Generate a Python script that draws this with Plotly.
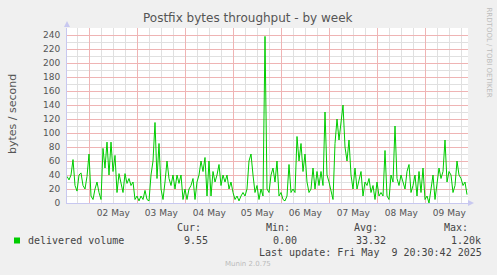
import pandas as pd
import plotly.graph_objects as go

# ---- data (hourly samples) ----
start_time = "2025-05-01 12:51"
end_time = "2025-05-09 21:21"
delivered = [
    38, 33, 40, 62, 25, 17, 40, 43, 25, 20, 38, 70, 10, 5, 20, 30, 15, 5, 78, 50,
    87, 40, 87, 45, 68, 15, 42, 30, 15, 42, 28, 35, 25, 30, 5, 10, 3, 10, 5, 18,
    5, 3, 40, 60, 115, 35, 85, 20, 5, 30, 60, 35, 25, 40, 20, 40, 28, 40, 5, 20,
    5, 20, 25, 35, 5, 30, 40, 60, 45, 65, 10, 60, 10, 45, 30, 40, 55, 25, 40, 30,
    40, 20, 30, 15, 5, 10, 3, 10, 15, 10, 20, 60, 70, 40, 15, 25, 5, 20, 10, 238,
    20, 15, 40, 50, 30, 60, 10, 15, 5, 3, 10, 55, 15, 20, 15, 95, 60, 85, 45, 70,
    30, 15, 20, 50, 20, 45, 25, 45, 25, 130, 40, 30, 15, 5, 85, 120, 90, 115, 140, 80,
    60, 90, 40, 20, 50, 20, 35, 45, 10, 30, 25, 35, 15, 25, 5, 30, 10, 15, 10, 75,
    10, 5, 40, 30, 110, 35, 25, 40, 30, 20, 45, 55, 15, 25, 40, 10, 45, 15, 50, 5,
    10, 0, 20, 40, 5, 25, 50, 35, 45, 90, 30, 45, 40, 15, 25, 60, 40, 35, 25, 30, 12,
]
times = pd.date_range(start_time, periods=len(delivered), freq="h")

title = "Postfix bytes throughput - by week"
y_title = "bytes / second"
series_name = "delivered volume"
stats_labels = ["Cur:", "Min:", "Avg:", "Max:"]
stats_values = ["9.55", "0.00", "33.32", "1.20k"]
last_update = "Last update: Fri May  9 20:30:42 2025"
footer = "Munin 2.0.75"
side_text = "RRDTOOL / TOBI OETIKER"

# grid positions: major at midnight / every 20, minor every 6 h / every 10
x_minor = [t for t in pd.date_range("2025-05-01 00:00", "2025-05-10 00:00", freq="6h")
           if t.hour != 0]
y_major = list(range(0, 241, 20))
y_minor = list(range(10, 251, 20))

# ---- layout geometry (pixels) ----
W, H = 497, 275
L, R, T, B = 67, 468, 28, 203
pw, ph = R - L, B - T


def px(x):
    return (x - L) / pw


def py(y):
    return (B - y) / ph


GREEN = "#00CC00"
MAJ = "#efb4b4"
MIN = "#e0e0e0"
AX = "#c8c8f0"
TXT = "#555555"

fig = go.Figure()
fig.add_trace(go.Scatter(x=times, y=delivered, mode="lines",
                         line=dict(color=GREEN, width=1), showlegend=False,
                         hoverinfo="skip"))

fig.update_layout(
    width=W, height=H,
    margin=dict(l=L, r=W - R, t=T, b=H - B, pad=0),
    paper_bgcolor="#F0F0F0", plot_bgcolor="#FFFFFF",
    font=dict(family="DejaVu Sans", color=TXT, size=9),
    showlegend=False,
)
fig.update_xaxes(
    type="date", range=[start_time, end_time],
    tickformat="%d %b", ticklabelmode="period", dtick=86400000,
    tick0="2025-05-02 00:00",
    showgrid=True, gridcolor=MAJ, gridwidth=1,
    minor=dict(tickmode="array", tickvals=x_minor, showgrid=True, gridcolor=MIN,
               gridwidth=1),
    showline=True, linecolor=AX, linewidth=1, zeroline=False,
    ticks="", tickfont=dict(size=9, color=TXT, family="DejaVu Sans"),
    ticklabelstandoff=1,
)
fig.update_yaxes(
    range=[0, 250], tickmode="array", tickvals=y_major,
    showgrid=True, gridcolor=MAJ, gridwidth=1,
    minor=dict(tickmode="array", tickvals=y_minor, showgrid=True, gridcolor=MIN,
               gridwidth=1),
    showline=True, linecolor=AX, linewidth=1, zeroline=False,
    ticks="", tickfont=dict(size=9, color=TXT, family="DejaVu Sans"),
    ticklabelstandoff=4,
)

ann = []
ann.append(dict(text=title, x=px(248), y=py(18), xref="paper", yref="paper",
                showarrow=False, xanchor="center", yanchor="middle",
                font=dict(size=12, color=TXT, family="DejaVu Sans")))
ann.append(dict(text=y_title, x=px(12), y=py(114), xref="paper", yref="paper",
                showarrow=False, xanchor="center", yanchor="middle", textangle=-90,
                font=dict(size=11, color=TXT, family="DejaVu Sans")))
ann.append(dict(text=side_text, x=px(488.5), y=py(5), xref="paper", yref="paper",
                showarrow=False, xanchor="center", yanchor="top", textangle=90,
                font=dict(size=7, color="#bbbbbb", family="DejaVu Sans")))
mono = dict(size=10, color="#444444", family="DejaVu Sans Mono")
ann.append(dict(text=series_name, x=px(26), y=py(240), xref="paper", yref="paper",
                showarrow=False, xanchor="left", yanchor="middle", font=mono))
lab_right = [203, 292, 380, 470]
val_right = [210, 299, 388, 483]
for lab, val, lx, vx in zip(stats_labels, stats_values, lab_right, val_right):
    ann.append(dict(text=lab, x=px(lx), y=py(227.5), xref="paper", yref="paper",
                    showarrow=False, xanchor="right", yanchor="middle", font=mono))
    ann.append(dict(text=val, x=px(vx), y=py(240), xref="paper", yref="paper",
                    showarrow=False, xanchor="right", yanchor="middle", font=mono))
ann.append(dict(text=last_update, x=px(484), y=py(252.5), xref="paper", yref="paper",
                showarrow=False, xanchor="right", yanchor="middle", font=mono))
ann.append(dict(text=footer, x=px(248), y=py(263.5), xref="paper", yref="paper",
                showarrow=False, xanchor="center", yanchor="middle",
                font=dict(size=7, color="#bbbbbb", family="DejaVu Sans")))
fig.update_layout(annotations=ann)

shapes = [
    # legend colour box
    dict(type="rect", xref="paper", yref="paper", x0=px(14), x1=px(20),
         y0=py(243.5), y1=py(237.5), fillcolor=GREEN, line=dict(width=0)),
    # axis arrows
    dict(type="path", xref="paper", yref="paper",
         path=f"M {px(64)} {py(27)} L {px(70)} {py(27)} L {px(67)} {py(21)} Z",
         fillcolor=AX, line=dict(width=0)),
    dict(type="path", xref="paper", yref="paper",
         path=f"M {px(468)} {py(200)} L {px(468)} {py(206)} L {px(474)} {py(203)} Z",
         fillcolor=AX, line=dict(width=0)),
]
fig.update_layout(shapes=shapes)

fig.write_html("out.html")
